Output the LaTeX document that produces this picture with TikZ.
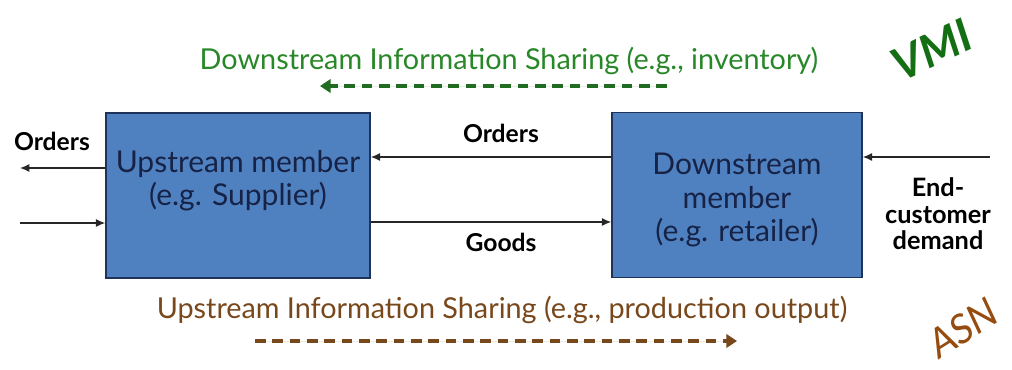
\documentclass[tikz,border=0pt]{standalone}
\usepackage{fontspec}
\setmainfont{Lato}
\usetikzlibrary{arrows.meta}
\definecolor{boxblue}{RGB}{79,129,193}
\definecolor{boxedge}{RGB}{30,50,90}
\definecolor{boxtext}{RGB}{22,34,70}
\definecolor{infogreen}{RGB}{40,135,40}
\definecolor{vmigreen}{RGB}{20,110,20}
\definecolor{infobrown}{RGB}{120,72,28}
\definecolor{asnbrown}{RGB}{150,75,15}

\begin{document}
\begin{tikzpicture}[x=0.75pt,y=-0.75pt,
        member/.style={draw=boxedge, line width=1.2pt, fill=boxblue,
            minimum width=264*0.75pt, minimum height=165*0.75pt, inner sep=0pt},
        membertext/.style={text=boxtext, align=center, font=\fontsize{22.5}{25}\selectfont, inner sep=0pt},
        flow/.style={draw=black!85, line width=0.9pt, -{Latex[length=7pt,width=6pt]}},
        flowlabel/.style={font=\fontsize{18.5}{20}\selectfont\bfseries, align=center, inner sep=0pt},
        infotext/.style={font=\fontsize{21.6}{24}\selectfont, inner sep=0pt},
        infoflow/.style={line width=3pt, dash pattern=on 8pt off 5pt, -{Triangle[length=8pt,width=10pt]}}
    ]
            \useasboundingbox (0,0) rectangle (1012,369);
            % the two members
            \node[member] (up) at (238,195.5) {};
            \node[member, minimum width=250*0.75pt] (down) at (737,195) {};
            \node[membertext] (uptext) at (238,181) {Upstream member\\(e.g. Supplier)};
            \node[membertext] (downtext) at (737,200) {Downstream\\member\\(e.g. retailer)};
            % loose ends of the outer arrows
            \coordinate (ordout) at (20,168);
            \coordinate (goodin) at (20,223);
            \coordinate (demand) at (990,157);
            \coordinate (vmiA) at (667,86);
            \coordinate (vmiB) at (320,86);
            \coordinate (asnA) at (255,341);
            \coordinate (asnB) at (737,341);
            % material and order flows
            \draw[flow] (up.west |- ordout) -- (ordout);
            \draw[flow] (goodin) -- (up.west |- goodin);
            \draw[flow] (down.west |- 0,157) -- (up.east |- 0,157);
            \draw[flow] (up.east |- 0,222) -- (down.west |- 0,222);
            \draw[flow] (demand) -- (down.east |- demand);
            \node[flowlabel] (ordleft) at (52,141) {Orders};
            \node[flowlabel] (ordmid) at (501,133) {Orders};
            \node[flowlabel] (goods) at (501,242) {Goods};
            \node[flowlabel, font=\fontsize{19}{20}\selectfont\bfseries] (enduser) at (938,214) {End-\\customer\\demand};
            % information sharing
            \node[infotext, text=infogreen] (downinfo) at (509,61) {Downstream Information Sharing (e.g., inventory)};
            \draw[infoflow, draw=infogreen!80!black, fill=infogreen!80!black] (vmiA) -- (vmiB);
            \node[infotext, text=infobrown] (upinfo) at (502,310) {Upstream Information Sharing (e.g., production output)};
            \draw[infoflow, draw=infobrown, fill=infobrown] (asnA) -- (asnB);
            \node[rotate=25, text=vmigreen, font=\fontsize{34}{34}\selectfont\bfseries\itshape] (vmi) at (932,50) {VMI};
            \node[rotate=32, text=asnbrown, font=\fontsize{30}{30}\selectfont\itshape] (asn) at (963,328) {ASN};
\end{tikzpicture}
\end{document}
